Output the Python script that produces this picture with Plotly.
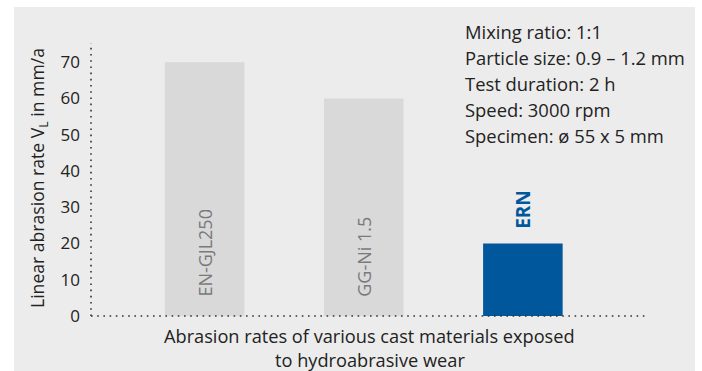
import plotly.graph_objects as go

categories = ["EN-GJL250", "GG-Ni 1.5", "ERN"]
values = [70, 60, 20]
bar_colors = ["#d9d9d9", "#d9d9d9", "#00579b"]
y_ticks = [0, 10, 20, 30, 40, 50, 60, 70]
spec_lines = [
    "Mixing ratio: 1:1",
    "Particle size: 0.9 – 1.2 mm",
    "Test duration: 2 h",
    "Speed: 3000 rpm",
    "Specimen: ø 55 x 5 mm",
]
y_title = "Linear abrasion rate V<sub>L</sub> in mm/a"
x_title_lines = ["Abrasion rates of various cast materials exposed", "to hydroabrasive wear"]

FONT = "Open Sans"
W, H = 702, 371
L, R, T, B = 91, 55, 43, 55
pw, ph = W - L - R, H - T - B

def px(x):
    return (x - L) / pw

def py(y):
    return (H - B - y) / ph

fig = go.Figure()
fig.add_trace(go.Bar(
    x=list(range(len(categories))), y=values,
    marker=dict(color=bar_colors, line=dict(width=0)),
    width=0.5, hoverinfo="skip",
))

annotations = []
# bar labels
for i, (c, v) in enumerate(zip(categories, values)):
    if i < 2:
        annotations.append(dict(x=i, y=0, xref="x", yref="y", text=c, textangle=-90,
                                showarrow=False, xanchor="center", yanchor="bottom", yshift=17,
                                font=dict(family=FONT, size=18, color="#7a7a7a")))
    else:
        annotations.append(dict(x=i, y=v, xref="x", yref="y", text="<b>" + c + "</b>", textangle=-90,
                                showarrow=False, xanchor="center", yanchor="bottom", yshift=13,
                                font=dict(family=FONT, size=19, color="#00579b")))

# spec text lines
for k, s in enumerate(spec_lines):
    annotations.append(dict(x=px(463), y=py(32 + 25.75 * k), xref="paper", yref="paper", text=s,
                            showarrow=False, xanchor="left", yanchor="middle",
                            font=dict(family=FONT, size=18.4, color="#222")))

# x title
for k, s in enumerate(x_title_lines):
    annotations.append(dict(x=px(369.5), y=py(336 + 24 * k), xref="paper", yref="paper", text=s,
                            showarrow=False, xanchor="center", yanchor="middle",
                            font=dict(family=FONT, size=18.2, color="#222")))

# y title
annotations.append(dict(x=px(38), y=py(178), xref="paper", yref="paper", text=y_title,
                        textangle=-90, showarrow=False, xanchor="center", yanchor="middle",
                        font=dict(family=FONT, size=17.6, color="#222")))

shapes = [
    dict(type="rect", xref="paper", yref="paper", x0=px(14), x1=px(695), y0=py(371), y1=py(7),
         fillcolor="#ececec", line=dict(width=0), layer="below"),
    dict(type="line", xref="paper", yref="paper", x0=0, x1=1, y0=0, y1=0,
         line=dict(color="#333", width=1.6, dash="1.6px,4.6px")),
    dict(type="line", xref="paper", yref="paper", x0=0, x1=0, y0=0, y1=1,
         line=dict(color="#333", width=1.6, dash="1.6px,4.6px")),
]

fig.update_layout(
    width=W, height=H,
    margin=dict(l=L, r=R, t=T, b=B, pad=0),
    paper_bgcolor="white", plot_bgcolor="rgba(0,0,0,0)",
    showlegend=False,
    bargap=0.5,
    annotations=annotations,
    shapes=shapes,
    xaxis=dict(range=[-0.714, 2.78], showticklabels=False, showgrid=False, zeroline=False,
               showline=False, ticks="", fixedrange=True),
    yaxis=dict(range=[0, 75.3], tickvals=y_ticks, showgrid=False, zeroline=False, showline=False,
               ticks="", ticklabelstandoff=10,
               tickfont=dict(family=FONT, size=17, color="#222"), fixedrange=True),
)

fig.write_html("out.html", config={"displayModeBar": False})
